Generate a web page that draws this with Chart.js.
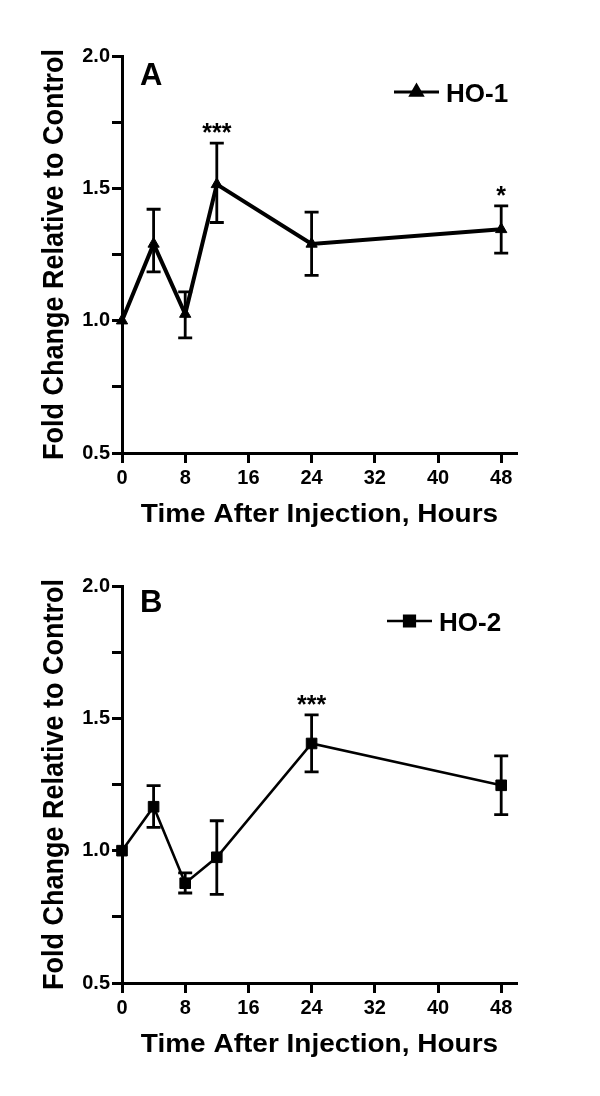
<!DOCTYPE html>
<html>
<head>
<meta charset="utf-8">
<script src="https://cdn.jsdelivr.net/npm/chart.js@4.4.1/dist/chart.umd.min.js"></script>
<style>
  html, body { margin: 0; padding: 0; background: #ffffff; }
  body { width: 600px; height: 1096px; position: relative; overflow: hidden; }
  .wrap { position: absolute; left: 0; width: 600px; height: 530px; }
  #wrapA { top: 0; }
  #wrapB { top: 530px; }
</style>
</head>
<body>
<div class="wrap" id="wrapA"><canvas id="chartA" width="600" height="530"></canvas></div>
<div class="wrap" id="wrapB"><canvas id="chartB" width="600" height="530"></canvas></div>
<script>
// ---- data ----
const hours = [0, 4, 8, 12, 24, 48];

const ho1Mean  = [1.000, 1.290, 1.025, 1.515, 1.290, 1.345];
const ho1Upper = [1.000, 1.421, 1.109, 1.671, 1.410, 1.434];
const ho1Lower = [1.000, 1.184, 0.935, 1.371, 1.171, 1.255];
const ho1StarHours  = [12, 48];
const ho1StarLabels = ['***', '*'];

const ho2Mean  = [1.000, 1.166, 0.877, 0.975, 1.405, 1.247];
const ho2Upper = [1.000, 1.246, 0.916, 1.113, 1.513, 1.358];
const ho2Lower = [1.000, 1.088, 0.840, 0.835, 1.298, 1.136];
const ho2StarHours  = [24];
const ho2StarLabels = ['***'];

const xTickValues = [0, 8, 16, 24, 32, 40, 48];
const yTickLabels = ['0.5', '1.0', '1.5', '2.0'];

const xTitle = 'Time After Injection, Hours';
const yTitle = 'Fold Change Relative to Control';

const FONT = '"Liberation Sans", Arial, Helvetica, sans-serif';

const decorPlugin = {
  id: 'decor',
  beforeDatasetsDraw(chart, args, opts) {
    const ctx = chart.ctx;
    const xs = chart.scales.x, ys = chart.scales.y;
    ctx.save();
    ctx.strokeStyle = '#000';
    ctx.lineWidth = opts.errWidth;
    ctx.lineCap = 'butt';
    opts.hours.forEach((h, i) => {
      const up = opts.upper[i], lo = opts.lower[i];
      if (up === lo) return;
      const px = xs.getPixelForValue(h);
      const pu = ys.getPixelForValue(up);
      const pl = ys.getPixelForValue(lo);
      ctx.beginPath();
      ctx.moveTo(px, pu); ctx.lineTo(px, pl);
      ctx.moveTo(px - 7, pu); ctx.lineTo(px + 7, pu);
      ctx.moveTo(px - 7, pl); ctx.lineTo(px + 7, pl);
      ctx.stroke();
    });
    ctx.restore();
  },
  afterDraw(chart, args, opts) {
    const ctx = chart.ctx;
    const xs = chart.scales.x, ys = chart.scales.y;
    const area = chart.chartArea;
    ctx.save();
    ctx.fillStyle = '#000';
    ctx.strokeStyle = '#000';

    // significance stars above error bars
    ctx.font = 'bold 25px ' + FONT;
    ctx.textAlign = 'center';
    ctx.textBaseline = 'alphabetic';
    opts.starHours.forEach((h, i) => {
      const idx = opts.hours.indexOf(h);
      const px = xs.getPixelForValue(h);
      const pu = ys.getPixelForValue(opts.upper[idx]);
      ctx.fillText(opts.starLabels[i], px, pu - 16 + 14);
    });

    // panel letter
    ctx.font = 'bold 31px ' + FONT;
    ctx.textAlign = 'left';
    ctx.fillText(opts.letter, area.left + 18, area.top + opts.letterDy);

    // legend
    const ds = chart.data.datasets[0];
    const lx0 = opts.legendX, lx1 = opts.legendX + 45, ly = opts.legendY;
    ctx.lineWidth = opts.legendLineWidth;
    ctx.beginPath(); ctx.moveTo(lx0, ly); ctx.lineTo(lx1, ly); ctx.stroke();
    Chart.helpers.drawPoint(ctx, {
      pointStyle: ds.pointStyle, radius: ds.pointRadius, borderWidth: 1, rotation: 0
    }, (lx0 + lx1) / 2, ly);
    ctx.font = 'bold 26px ' + FONT;
    ctx.textAlign = 'left';
    ctx.fillText(ds.label, lx1 + 7, ly + 10);

    // axis titles
    ctx.font = 'bold 25px ' + FONT;
    ctx.textAlign = 'center';
    ctx.textBaseline = 'middle';
    ctx.save();
    ctx.translate((area.left + area.right) / 2, 515);
    ctx.scale(1.12, 1);
    ctx.fillText(xTitle, 0, 0);
    ctx.restore();

    ctx.save();
    ctx.font = 'bold 27px ' + FONT;
    ctx.translate(55, (area.top + area.bottom) / 2);
    ctx.rotate(-Math.PI / 2);
    ctx.scale(1, 1.08);
    ctx.fillText(yTitle, 0, 0);
    ctx.restore();

    ctx.restore();
  }
};

function makeChart(canvasId, label, mean, upper, lower, style, starHours, starLabels, letter, letterDy, legendX, legendY, lineW, legendLineW) {
  const points = hours.map((h, i) => ({ x: h, y: mean[i] }));
  return new Chart(document.getElementById(canvasId), {
    type: 'line',
    data: {
      datasets: [{
        label: label,
        data: points,
        borderColor: '#000',
        backgroundColor: '#000',
        borderWidth: lineW,
        pointStyle: style.pointStyle,
        pointRadius: style.pointRadius,
        pointBorderWidth: 1,
        pointBackgroundColor: '#000',
        pointBorderColor: '#000',
        tension: 0,
        fill: false,
        clip: false
      }]
    },
    options: {
      responsive: false,
      animation: false,
      events: [],
      layout: { padding: { left: 0, right: 83, top: 56, bottom: 0 } },
      plugins: {
        legend: { display: false },
        tooltip: { enabled: false },
        decor: {
          hours: hours, upper: upper, lower: lower,
          errWidth: 2.8,
          starHours: starHours, starLabels: starLabels,
          letter: letter, letterDy: letterDy,
          legendX: legendX, legendY: legendY, legendLineWidth: legendLineW
        }
      },
      scales: {
        x: {
          type: 'linear',
          min: 0, max: 50,
          afterFit(scale) { scale.height = 77; },
          afterBuildTicks(scale) {
            scale.ticks = xTickValues.map(v => ({ value: v }));
          },
          ticks: {
            color: '#000',
            font: { family: FONT, size: 20, weight: 'bold' },
            padding: 3,
            maxRotation: 0,
            autoSkip: false,
            callback: v => String(v)
          },
          grid: { drawOnChartArea: false, drawTicks: true, tickLength: 10, tickWidth: 3, tickColor: '#000' },
          border: { display: true, color: '#000', width: 3 }
        },
        y: {
          type: 'linear',
          min: 0.5, max: 2.0,
          afterFit(scale) { scale.width = 122; },
          ticks: {
            stepSize: 0.25,
            color: '#000',
            font: { family: FONT, size: 20, weight: 'bold' },
            padding: 2,
            autoSkip: false,
            callback: v => {
              const s = Number(v).toFixed(1);
              return (Math.abs(v * 2 - Math.round(v * 2)) < 1e-6 && yTickLabels.includes(s)) ? s : '';
            }
          },
          grid: { drawOnChartArea: false, drawTicks: true, tickLength: 10, tickWidth: 3, tickColor: '#000' },
          border: { display: true, color: '#000', width: 3 }
        }
      }
    },
    plugins: [decorPlugin]
  });
}

makeChart('chartA', 'HO-1', ho1Mean, ho1Upper, ho1Lower,
  { pointStyle: 'triangle', pointRadius: 6.5 },
  ho1StarHours, ho1StarLabels, 'A', 29, 394, 92, 4, 3);

makeChart('chartB', 'HO-2', ho2Mean, ho2Upper, ho2Lower,
  { pointStyle: 'rect', pointRadius: 7.5 },
  ho2StarHours, ho2StarLabels, 'B', 26, 387, 91, 2.6, 2.6);
</script>
</body>
</html>
